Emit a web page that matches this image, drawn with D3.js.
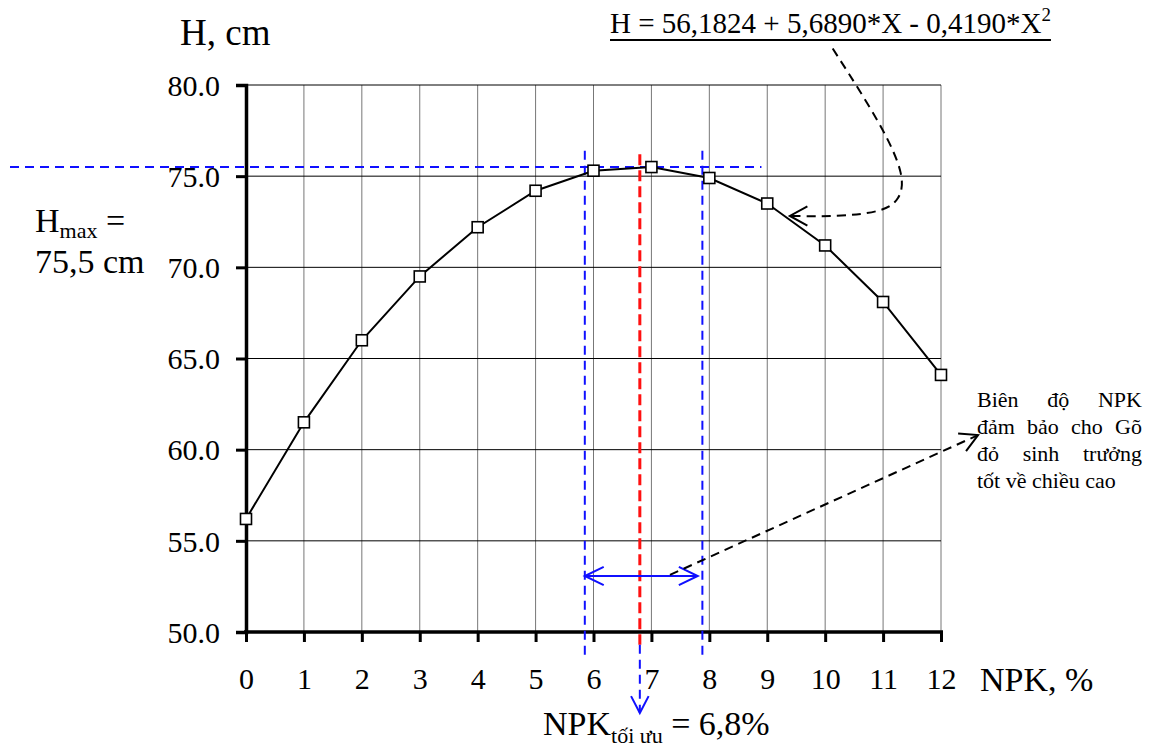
<!DOCTYPE html>
<html>
<head>
<meta charset="utf-8">
<script src="https://cdn.jsdelivr.net/npm/d3@7"></script>
<style>
  body { margin: 0; background: #fff; }
  svg text { font-family: 'Liberation Serif', 'Times New Roman', serif; }
</style>
</head>
<body>
<div id="chart"></div>
<script>
// Số liệu đọc từ đồ thị
const npk = [0, 1, 2, 3, 4, 5, 6, 7, 8, 9, 10, 11, 12];
const heightCm = [56.2, 61.5, 66.0, 69.5, 72.2, 74.2, 75.3, 75.5, 74.9, 73.5, 71.2, 68.1, 64.1];
const yTicks = [50, 55, 60, 65, 70, 75, 80];
const xTicks = [0, 1, 2, 3, 4, 5, 6, 7, 8, 9, 10, 11, 12];

// Các đường chú thích (đơn vị dữ liệu)
const hMax = 75.5;
const npkOpt = 6.8;
const rangeLo = 5.85, rangeHi = 7.88;
const curveArrow = [[10.13, 82.0], [11.0, 77.7], [11.38, 74.96], [11.29, 73.7], [11.0, 73.04], [10.2, 72.77], [9.39, 72.82]];
const rangeArrow = [[7.32, 53.13], [12.64, 60.8]];
const noteLines = ["Biên độ NPK", "đảm bảo cho Gõ", "đỏ sinh trưởng", "tốt về chiều cao"];

const W = 1153, H = 749;
const svg = d3.select("#chart").append("svg").attr("width", W).attr("height", H);

const x = d3.scaleLinear().domain([0, 12]).range([246, 941]);
const y = d3.scaleLinear().domain([50, 80]).range([632, 85]);

// Lưới
svg.append("g").selectAll("line").data(xTicks.slice(1)).join("line")
  .attr("x1", d => x(d)).attr("x2", d => x(d)).attr("y1", y(80)).attr("y2", y(50))
  .attr("stroke", "#777").attr("stroke-width", 1);
svg.append("g").selectAll("line").data(yTicks.slice(1)).join("line")
  .attr("x1", x(0)).attr("x2", x(12)).attr("y1", d => y(d)).attr("y2", d => y(d))
  .attr("stroke", "#000").attr("stroke-width", 1);

// Trục
const yAxis = svg.append("g").attr("transform", `translate(${x(0)},0)`)
  .call(d3.axisLeft(y).tickValues(yTicks).tickSize(10).tickFormat(d3.format(".1f")));
const xAxis = svg.append("g").attr("transform", `translate(0,${y(50)})`)
  .call(d3.axisBottom(x).tickValues(xTicks).tickSize(10).tickFormat(d => d));
[yAxis, xAxis].forEach(g => {
  g.attr("font-family", null);
  g.select(".domain").attr("stroke-width", 3.5).attr("stroke", "#000");
  g.selectAll(".tick line").attr("stroke-width", 3).attr("stroke", "#000");
  g.selectAll("text").attr("font-size", 30).attr("fill", "#000");
});
yAxis.selectAll(".tick text").attr("x", -26).attr("dy", "0.34em");
xAxis.selectAll(".tick text").attr("y", 36);
xAxis.select(".domain").attr("d", `M${x(0) - 2},0H${x(12) + 2}`);

// Đường H max, khoảng tối ưu
const blue = "#1010ff";
svg.append("line").attr("x1", 10).attr("x2", x(8.9)).attr("y1", y(hMax)).attr("y2", y(hMax))
  .attr("stroke", blue).attr("stroke-width", 2).attr("stroke-dasharray", "9,6");
[rangeLo, rangeHi].forEach(v => {
  svg.append("line").attr("x1", x(v)).attr("x2", x(v)).attr("y1", y(76.4)).attr("y2", y(48.7))
    .attr("stroke", blue).attr("stroke-width", 2).attr("stroke-dasharray", "9,6");
});
svg.append("line").attr("x1", x(npkOpt)).attr("x2", x(npkOpt)).attr("y1", y(76.2)).attr("y2", y(49.3))
  .attr("stroke", "#ff1010").attr("stroke-width", 3).attr("stroke-dasharray", "11,5");
svg.append("line").attr("x1", x(npkOpt)).attr("x2", x(npkOpt)).attr("y1", y(49.3)).attr("y2", 713)
  .attr("stroke", blue).attr("stroke-width", 2).attr("stroke-dasharray", "9,6");

function arrowHead(tx, ty, ang, len, spread, color, width) {
  // ang: hướng mũi tên (radian)
  const a1 = ang + Math.PI - spread, a2 = ang + Math.PI + spread;
  svg.append("path")
    .attr("d", `M${tx + len * Math.cos(a1)},${ty + len * Math.sin(a1)}L${tx},${ty}L${tx + len * Math.cos(a2)},${ty + len * Math.sin(a2)}`)
    .attr("fill", "none").attr("stroke", color).attr("stroke-width", width);
}
arrowHead(x(npkOpt), 713, Math.PI / 2, 19, 0.48, blue, 2);

// Mũi tên hai đầu
const yr = y(53.07);
svg.append("line").attr("x1", x(rangeLo)).attr("x2", x(7.8)).attr("y1", yr).attr("y2", yr)
  .attr("stroke", blue).attr("stroke-width", 2);
arrowHead(x(rangeLo), yr, Math.PI, 21, 0.45, blue, 2);
arrowHead(x(7.8), yr, 0, 21, 0.45, blue, 2);

// Đường số liệu
const pts = npk.map((v, i) => ({x: v, y: heightCm[i]}));
svg.append("path").datum(pts)
  .attr("d", d3.line().x(d => x(d.x)).y(d => y(d.y)))
  .attr("fill", "none").attr("stroke", "#000").attr("stroke-width", 2);
svg.selectAll(".dot").data(pts).join("rect").attr("class", "dot")
  .attr("x", d => x(d.x) - 5.5).attr("y", d => y(d.y) - 5.5)
  .attr("width", 11).attr("height", 11)
  .attr("fill", "#fff").attr("stroke", "#000").attr("stroke-width", 1.6);

// Mũi tên cong từ phương trình
svg.append("path").datum(curveArrow)
  .attr("d", d3.line().x(d => x(d[0])).y(d => y(d[1])).curve(d3.curveBasis))
  .attr("fill", "none").attr("stroke", "#000").attr("stroke-width", 2).attr("stroke-dasharray", "9,6");
const tip = curveArrow[curveArrow.length - 1];
arrowHead(x(tip[0]), y(tip[1]), Math.PI, 20, 0.5, "#000", 2);

// Mũi tên tới chú thích
const r0 = rangeArrow[0], r1 = rangeArrow[1];
svg.append("line").attr("x1", x(r0[0])).attr("y1", y(r0[1])).attr("x2", x(r1[0])).attr("y2", y(r1[1]))
  .attr("stroke", "#000").attr("stroke-width", 2).attr("stroke-dasharray", "9,6");
arrowHead(x(r1[0]), y(r1[1]), Math.atan2(y(r1[1]) - y(r0[1]), x(r1[0]) - x(r0[0])), 20, 0.5, "#000", 2);

// Chữ
svg.append("text").attr("x", 180).attr("y", 45).attr("font-size", 37).text("H, cm");

const hm = svg.append("text").attr("x", 35).attr("y", 232).attr("font-size", 34);
hm.append("tspan").text("H");
hm.append("tspan").attr("font-size", 22).attr("dy", 6).text("max");
hm.append("tspan").attr("dy", -6).text(" =");
svg.append("text").attr("x", 35).attr("y", 273).attr("font-size", 34).text("75,5 cm");

svg.append("text").attr("x", 980).attr("y", 691).attr("font-size", 34).text("NPK, %");

const opt = svg.append("text").attr("x", 543).attr("y", 735).attr("font-size", 34);
opt.append("tspan").text("NPK");
opt.append("tspan").attr("font-size", 22).attr("dy", 8).text("tối ưu");
opt.append("tspan").attr("dy", -8).text(" = 6,8%");

const eq = svg.append("text").attr("x", 610).attr("y", 33).attr("font-size", 29);
eq.append("tspan").text("H = 56,1824 + 5,6890*X - 0,4190*X");
eq.append("tspan").attr("font-size", 19).attr("dy", -12).text("2");
const eqW = eq.node().getBBox().width;
svg.append("line").attr("x1", 610).attr("x2", 610 + eqW).attr("y1", 40).attr("y2", 40)
  .attr("stroke", "#000").attr("stroke-width", 2);

// Chú thích căn đều hai bên
const noteX = 977, noteR = 1142, noteY0 = 407, noteDy = 27;
noteLines.forEach((line, li) => {
  const words = line.split(" ");
  const ty = noteY0 + li * noteDy;
  const nodes = words.map(w => svg.append("text").attr("y", ty).attr("font-size", 22).text(w));
  const widths = nodes.map(n => n.node().getComputedTextLength());
  const last = li === noteLines.length - 1;
  const gap = last ? 5.5 : (noteR - noteX - d3.sum(widths)) / (words.length - 1);
  let cx = noteX;
  nodes.forEach((n, i) => { n.attr("x", cx); cx += widths[i] + gap; });
});
</script>
</body>
</html>
